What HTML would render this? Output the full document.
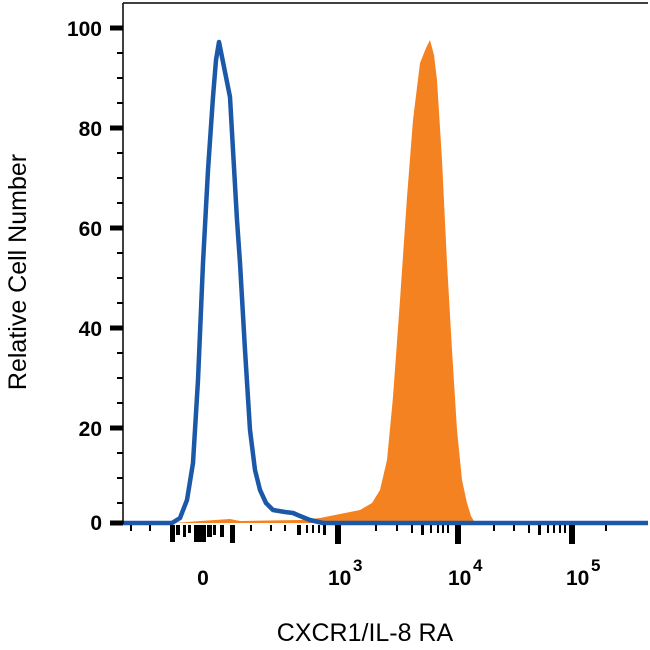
<!DOCTYPE html>
<html><head><style>body{margin:0;background:#fff}svg{display:block}</style></head><body>
<svg width="650" height="650" xmlns="http://www.w3.org/2000/svg" font-family="Liberation Sans, sans-serif">
<rect width="650" height="650" fill="#fff"/>
<path d="M175,523 L200,521 L230,519 L240,521 L300,520 L320,518 L340,514 L360,510 L372,503 L380,490 L387,460 L393,397 L400,300 L407,197 L413,120 L420,63 L426,48 L430,40 L434,55 L437,80 L442,160 L447,263 L452,350 L457,430 L462,480 L467,503 L471,516 L475,523 Z" fill="#f58220"/>
<path d="M123,523 L172,523 L180,518 L187,500 L193,463 L198,380 L203,263 L208,170 L213,97 L216,60 L219,42 L223,62 L230,97 L233,150 L237,220 L240,263 L245,350 L250,430 L255,470 L260,490 L266,503 L273,510 L285,512 L293,513 L300,516 L310,520 L323,523 L648,523" fill="none" stroke="#1b58a8" stroke-width="4.5" stroke-linejoin="round"/>
<path d="M123,3 V524 M123,3 H648" stroke="#000" stroke-width="1.5" fill="none"/>
<g stroke="#000">
<path d="M110,28H123 M110,128H123 M110,228H123 M110,328H123 M110,428H123 M110,523H123" stroke-width="5"/>
<path d="M117,53H123 M117,78H123 M117,103H123 M117,153H123 M117,178H123 M117,203H123 M117,253H123 M117,278H123 M117,303H123 M117,353H123 M117,378H123 M117,403H123 M117,453H123 M117,478H123 M117,503H123" stroke-width="2"/>
</g>
<g font-size="21" font-weight="bold" text-anchor="end">
<text x="102" y="36">100</text><text x="102" y="136">80</text><text x="102" y="236">60</text><text x="102" y="336">40</text><text x="102" y="436">20</text><text x="102" y="530">0</text>
</g>
<g fill="#000">
<rect x="130" y="525" width="2" height="6"/><rect x="149" y="525" width="2" height="6"/>
<rect x="170" y="525" width="5" height="17"/><rect x="176" y="525" width="4" height="10"/><rect x="183" y="525" width="3" height="12"/><rect x="188" y="525" width="3" height="8"/>
<rect x="194" y="525" width="12" height="17"/><rect x="207" y="525" width="5" height="12"/><rect x="213" y="525" width="3" height="10"/><rect x="220" y="525" width="4" height="12"/><rect x="230" y="525" width="5" height="18"/>
<rect x="250" y="525" width="2" height="6"/><rect x="270" y="525" width="2" height="6"/><rect x="284" y="525" width="2" height="6"/><rect x="297" y="525" width="4" height="10"/><rect x="306" y="525" width="2" height="8"/><rect x="312" y="525" width="2" height="8"/><rect x="318" y="525" width="2" height="8"/><rect x="323" y="525" width="3" height="10"/><rect x="335" y="525" width="6" height="19"/>
<rect x="375" y="525" width="2" height="6"/><rect x="396" y="525" width="2" height="6"/><rect x="411" y="525" width="2" height="8"/><rect x="421" y="525" width="3" height="10"/><rect x="430" y="525" width="2" height="8"/><rect x="437" y="525" width="2" height="8"/><rect x="442" y="525" width="2" height="8"/><rect x="447" y="525" width="2" height="8"/><rect x="455" y="525" width="6" height="19"/>
<rect x="493" y="525" width="2" height="6"/><rect x="513" y="525" width="2" height="6"/><rect x="528" y="525" width="2" height="8"/><rect x="538" y="525" width="3" height="10"/><rect x="547" y="525" width="2" height="8"/><rect x="553" y="525" width="2" height="8"/><rect x="559" y="525" width="2" height="8"/><rect x="564" y="525" width="2" height="8"/><rect x="569" y="525" width="6" height="19"/>
<rect x="605" y="525" width="2" height="6"/>
</g>
<g font-size="21" font-weight="bold">
<text x="203" y="585" text-anchor="middle">0</text>
<text x="328" y="585">10</text><text x="353" y="571" font-size="17">3</text>
<text x="448" y="585">10</text><text x="473" y="571" font-size="17">4</text>
<text x="566" y="585">10</text><text x="591" y="571" font-size="17">5</text>
</g>
<text x="365" y="641" font-size="25" text-anchor="middle">CXCR1/IL-8 RA</text>
<text transform="translate(26,272) rotate(-90)" font-size="25" text-anchor="middle">Relative Cell Number</text>
</svg>
</body></html>
